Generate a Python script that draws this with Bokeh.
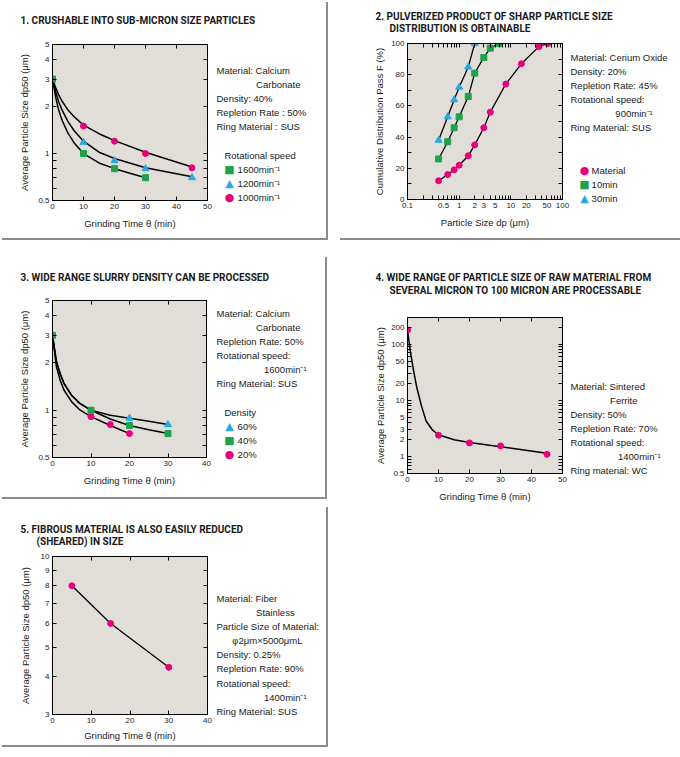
from bokeh.plotting import figure
from bokeh.models import (Range1d, FixedTicker, LinearAxis, LogAxis, Label,
                          CustomJSTickFormatter)
from bokeh.layouts import column, row
from bokeh.embed import file_html
from bokeh.resources import INLINE

# ---------------- data ----------------
# Panel 1: rotational speed comparison
p1_1600_t = [0, 10, 20, 30]
p1_1600 = [3.0, 1.0, 0.8, 0.70]
p1_1200_t = [10, 20, 30, 45]
p1_1200 = [1.18, 0.90, 0.80, 0.70]
p1_1000_t = [10, 20, 30, 45]
p1_1000 = [1.5, 1.2, 1.0, 0.81]
p1_curve_t = [0, 1, 2, 3, 5, 7, 10, 15, 20, 30, 45]
p1_curve_1000 = [3.0, 2.65, 2.38, 2.18, 1.9, 1.72, 1.52, 1.34, 1.21, 1.02, 0.82]
p1_curve_1200 = [3.0, 2.5, 2.15, 1.92, 1.6, 1.4, 1.2, 1.02, 0.93, 0.81, 0.71]
p1_curve_1600_t = [0, 1, 2, 3, 5, 7, 10, 15, 20, 30]
p1_curve_1600 = [3.0, 2.3, 1.9, 1.65, 1.35, 1.17, 1.0, 0.87, 0.80, 0.70]

# Panel 2: cumulative distribution
p2_mat_dp = [0.4, 0.6, 0.8, 1.0, 1.5, 2.0, 3.0, 4.0, 8.0, 16.0, 35.0, 52.0]
p2_mat_F = [12, 16, 19, 22, 28, 35, 46, 56, 74, 87, 98, 100]
p2_10_dp = [0.4, 0.6, 0.8, 1.0, 1.5, 2.0, 3.0, 4.0, 6.0]
p2_10_F = [26, 37, 46, 53, 66, 81, 91, 97, 100]
p2_30_dp = [0.4, 0.6, 0.8, 1.0, 1.5, 2.0]
p2_30_F = [38, 53, 64, 72, 85, 100]

# Panel 3: slurry density
p3_60_t = [20, 30]
p3_60 = [0.89, 0.81]
p3_40_t = [0, 10, 20, 30]
p3_40 = [3.0, 1.0, 0.80, 0.71]
p3_20_t = [10, 15, 20]
p3_20 = [0.91, 0.81, 0.71]
p3_curve_t = [0, 1, 2, 3, 5, 7, 10, 15, 20, 25, 30]
p3_curve_60 = [3.0, 2.05, 1.7, 1.48, 1.24, 1.11, 1.0, 0.93, 0.89, 0.85, 0.81]
p3_curve_40 = [3.0, 2.05, 1.7, 1.48, 1.24, 1.11, 1.0, 0.88, 0.80, 0.75, 0.71]
p3_curve_20_t = [0, 1, 2, 3, 5, 7, 10, 15, 20]
p3_curve_20 = [3.0, 1.9, 1.55, 1.34, 1.13, 1.01, 0.91, 0.80, 0.71]

# Panel 4: raw material size
p4_t = [0, 10, 20, 30, 45]
p4_dp = [180, 2.4, 1.75, 1.55, 1.1]
p4_curve_t = [0, 0.5, 1, 2, 3, 4.5, 6, 8, 10, 15, 20, 30, 45]
p4_curve = [180, 110, 70, 33, 17, 8.0, 4.3, 3.0, 2.45, 2.0, 1.78, 1.5, 1.15]

# Panel 5: fibrous material
p5_t = [5, 15, 30]
p5_dp = [8.0, 6.0, 4.3]

# ticks
lin50 = [0, 10, 20, 30, 40, 50]
lin40 = [0, 10, 20, 30, 40]
log_y13 = [0.5, 1, 2, 3, 4, 5]
log_y13_minor = [0.6, 0.7, 0.8, 0.9]
p2_x_major = [0.1, 0.5, 1, 2, 3, 5, 10, 20, 50, 100]
p2_x_minor = [0.2, 0.3, 0.4, 0.6, 0.7, 0.8, 0.9, 4, 6, 7, 8, 9, 30, 40, 60, 70, 80, 90]
p2_y_major = [0, 20, 40, 60, 80, 100]
p2_y_minor = [10, 30, 50, 70, 90]
p4_y_major = [0.5, 1, 2, 3, 5, 10, 20, 50, 100, 200]
p4_y_minor = [0.6, 0.7, 0.8, 0.9, 4, 6, 7, 8, 9, 30, 40, 60, 70, 80, 90]
p5_y_major = [3, 4, 5, 6, 7, 8, 9, 10]

# panel texts
SP = "\u00a0"
p1_title = "1.  CRUSHABLE INTO SUB-MICRON SIZE PARTICLES"
p1_info = ["Material: Calcium", SP * 15 + "Carbonate", "Density: 40%",
           "Repletion Rate : 50%", "Ring Material : SUS", SP,
           SP * 3 + "Rotational speed", SP * 8 + "1600min⁻¹",
           SP * 8 + "1200min⁻¹", SP * 8 + "1000min⁻¹"]
p2_title = ["2.  PULVERIZED PRODUCT OF SHARP PARTICLE SIZE", "DISTRIBUTION IS OBTAINABLE"]
p2_info = ["Material: Cerium Oxide", "Density: 20%", "Repletion Rate: 45%",
           "Rotational speed:", SP * 17 + "900min⁻¹", "Ring Material: SUS", SP, SP,
           SP * 8 + "Material", SP * 8 + "10min", SP * 8 + "30min"]
p3_title = "3.  WIDE RANGE SLURRY DENSITY CAN BE PROCESSED"
p3_info = ["Material: Calcium", SP * 15 + "Carbonate", "Repletion Rate: 50%",
           "Rotational speed:", SP * 18 + "1600min⁻¹", "Ring Material: SUS", SP,
           SP * 3 + "Density", SP * 8 + "60%", SP * 8 + "40%", SP * 8 + "20%"]
p4_title = ["4.  WIDE RANGE OF PARTICLE SIZE OF RAW MATERIAL FROM",
            "SEVERAL MICRON TO 100 MICRON ARE PROCESSABLE"]
p4_info = ["Material: Sintered", SP * 15 + "Ferrite", "Density: 50%",
           "Repletion Rate: 70%", "Rotational speed:", SP * 18 + "1400min⁻¹",
           "Ring material: WC"]
p5_title = ["5.  FIBROUS MATERIAL IS ALSO EASILY REDUCED", "(SHEARED)  IN SIZE"]
p5_info = ["Material: Fiber", SP * 15 + "Stainless", "Particle Size of Material:",
           SP * 6 + "φ2μm×5000μmL", "Density: 0.25%", "Repletion Rate: 90%",
           "Rotational speed:", SP * 18 + "1400min⁻¹", "Ring Material: SUS"]

# ---------------- style ----------------
FONT = "Liberation Sans"
TFONT = "Roboto"
BG = "#e1ddd8"
PINK = "#e6007e"
GREEN = "#1ea24b"
CYAN = "#27a9e1"
TXT = "#1a1a1a"
INFO_SIZE = 9.5
LINE_METRIC = 10.86 / 9.5   # measured line box / font size

fmt = CustomJSTickFormatter(code="return String(tick)")
blank = CustomJSTickFormatter(code="return ''")


def style_axis(ax, major, minor, show):
    ax.ticker = FixedTicker(ticks=major, minor_ticks=minor)
    ax.formatter = fmt if show else blank
    ax.major_tick_in = 4
    ax.major_tick_out = 0
    ax.minor_tick_in = 4
    ax.minor_tick_out = 0
    ax.axis_line_color = "black"
    ax.major_tick_line_color = "black"
    ax.minor_tick_line_color = "black"
    ax.major_label_standoff = 3 if show else 0
    ax.major_label_text_font = FONT
    ax.major_label_text_color = TXT
    ax.major_label_text_font_size = "8px"


class Panel:
    pass


def panel(origin, W, H, frame, xr, yr, xlog, ylog, xt, xmin, yt, ymin,
          xlabel, ylabel, xstand=6, ystand=6, margin=(0, 0, 0, 0), shadow=None):
    ox, oy = origin
    fx0, fx1, fy0, fy1 = frame
    p = figure(width=W, height=H, x_range=Range1d(*xr), y_range=Range1d(*yr),
               x_axis_type="log" if xlog else "linear",
               y_axis_type="log" if ylog else "linear",
               output_backend="svg", toolbar_location=None,
               min_border_left=fx0 - ox, min_border_right=W - (fx1 - ox),
               min_border_top=fy0 - oy, min_border_bottom=H - (fy1 - oy),
               margin=margin)
    if shadow:
        p.styles = {"box-shadow": shadow}
    p.background_fill_color = BG
    p.border_fill_color = "white"
    p.outline_line_color = "black"
    p.outline_line_width = 1
    p.xgrid.visible = False
    p.ygrid.visible = False
    top = LogAxis() if xlog else LinearAxis()
    right = LogAxis() if ylog else LinearAxis()
    p.add_layout(top, "above")
    p.add_layout(right, "right")
    bx = p.below[0]
    ly = p.left[0]
    style_axis(bx, xt, xmin, True)
    style_axis(ly, yt, ymin, True)
    style_axis(top, xt, xmin, False)
    style_axis(right, yt, ymin, False)
    for ax, lab, st in ((bx, xlabel, xstand), (ly, ylabel, ystand)):
        ax.axis_label = lab
        ax.axis_label_text_font = FONT
        ax.axis_label_text_font_size = "9.5px"
        ax.axis_label_text_font_style = "normal"
        ax.axis_label_text_color = TXT
        ax.axis_label_standoff = st
    info = Panel()
    info.p = p
    info.ox = ox
    info.oy = oy
    return info


def side_label(P, side, X, Y, text, size, font=FONT, bold=False, color=TXT,
               align="left", baseline="middle", line_height=1.2):
    # absolute canvas position; placed in a side panel so it is drawn outside the frame
    P.p.add_layout(Label(x=X - P.ox, y=Y - P.oy, x_units="canvas", y_units="canvas",
                         text=text, text_font=font, text_font_size=f"{size}px",
                         text_font_style="bold" if bold else "normal",
                         text_color=color, text_align=align, text_baseline=baseline,
                         text_line_height=line_height), side)


def title(P, X, Y, text):
    side_label(P, "above", X, Y, text, 10, font=TFONT, bold=True, line_height=1.1)


def info_block(P, X, Y, lines, pitch=14.0):
    side_label(P, "right", X, Y - pitch / 2, "\n".join(lines), INFO_SIZE,
               baseline="top", line_height=pitch / (INFO_SIZE * LINE_METRIC))


def mark(P, side, X, Y, shape, color):
    side_label(P, side, X, Y, shape, 11, font="DejaVu Sans", color=color, align="center")


XLAB = "Grinding Time θ (min)"
YLAB = "Average Particle Size dp50 (μm)"
SHADOW = "2px 2px 0 0 #8c8c8c"

# ---------------- Panel 1 ----------------
P1 = panel((0, 0), 326, 238, (52, 207, 44, 200), (0, 50), (0.5, 5), False, True,
           lin50, [], log_y13, log_y13_minor, XLAB, YLAB, ystand=5,
           margin=(0, 14, 17, 0), shadow=SHADOW)
p1 = P1.p
p1.line(p1_curve_t, p1_curve_1000, line_color="black", line_width=1.5)
p1.line(p1_curve_t, p1_curve_1200, line_color="black", line_width=1.5)
p1.line(p1_curve_1600_t, p1_curve_1600, line_color="black", line_width=1.5)
p1.scatter(p1_1000_t, p1_1000, marker="circle", size=6, color=PINK)
p1.scatter(p1_1200_t, p1_1200, marker="triangle", size=7, color=CYAN)
p1.scatter(p1_1600_t, p1_1600, marker="square", size=6, color=GREEN)
title(P1, 20, 20, p1_title)
info_block(P1, 216, 71, p1_info)
mark(P1, "right", 229, 155 + 14, "■", GREEN)
mark(P1, "right", 229, 155 + 28, "▲", CYAN)
mark(P1, "right", 229, 155 + 42, "●", PINK)

# ---------------- Panel 2 ----------------
P2 = panel((340, 0), 340, 238, (407, 562, 43, 199), (0.1, 100), (0, 100), True, False,
           p2_x_major, p2_x_minor, p2_y_major, p2_y_minor,
           "Particle Size dp (μm)", "Cumulative Distribution Pass F (%)", ystand=3,
           margin=(0, 0, 17, 0), shadow="0 2px 0 0 #8c8c8c")
p2 = P2.p
p2.line(p2_mat_dp, p2_mat_F, line_color="black", line_width=1.3)
p2.line(p2_10_dp, p2_10_F, line_color="black", line_width=1.3)
p2.line(p2_30_dp, p2_30_F, line_color="black", line_width=1.3)
p2.scatter(p2_mat_dp, p2_mat_F, marker="circle", size=6, color=PINK)
p2.scatter(p2_10_dp, p2_10_F, marker="square", size=6, color=GREEN)
p2.scatter(p2_30_dp, p2_30_F, marker="triangle", size=7, color=CYAN)
title(P2, 375, 16, p2_title[0])
title(P2, 389, 28, p2_title[1])
info_block(P2, 570, 58, p2_info)
mark(P2, "left", 584, 170, "●", PINK)
mark(P2, "left", 584, 184, "■", GREEN)
mark(P2, "left", 584, 198, "▲", CYAN)

# ---------------- Panel 3 ----------------
P3 = panel((0, 255), 325, 242, (52, 209, 300, 457), (0, 40), (0.5, 5), False, True,
           lin40, [], log_y13, log_y13_minor, XLAB, YLAB, ystand=5,
           margin=(0, 15, 8, 0), shadow=SHADOW)
p3 = P3.p
p3.line(p3_curve_t, p3_curve_60, line_color="black", line_width=1.5)
p3.line(p3_curve_t, p3_curve_40, line_color="black", line_width=1.5)
p3.line(p3_curve_20_t, p3_curve_20, line_color="black", line_width=1.5)
p3.scatter(p3_60_t, p3_60, marker="triangle", size=7, color=CYAN)
p3.scatter(p3_20_t, p3_20, marker="circle", size=6, color=PINK)
p3.scatter(p3_40_t, p3_40, marker="square", size=6, color=GREEN)
title(P3, 20, 277, p3_title)
info_block(P3, 216, 314, p3_info)
mark(P3, "right", 229, 426, "▲", CYAN)
mark(P3, "right", 229, 440, "■", GREEN)
mark(P3, "right", 229, 454, "●", PINK)

# ---------------- Panel 4 ----------------
P4 = panel((340, 255), 340, 250, (405, 562, 317, 473), (0, 50), (0.5, 300), False, True,
           lin50, [], p4_y_major, p4_y_minor, XLAB, YLAB, ystand=2)
p4 = P4.p
p4.line(p4_curve_t, p4_curve, line_color="black", line_width=1.5)
p4.scatter(p4_t, p4_dp, marker="circle", size=6, color=PINK)
title(P4, 375, 277, p4_title[0])
title(P4, 389, 290, p4_title[1])
info_block(P4, 570, 387, p4_info, pitch=13.85)

# ---------------- Panel 5 ----------------
P5 = panel((0, 505), 326, 240, (52, 209, 556, 714), (0, 40), (3, 10), False, True,
           lin40, [], p5_y_major, [], XLAB, YLAB, xstand=4, ystand=7,
           margin=(0, 14, 12, 0), shadow=SHADOW)
p5 = P5.p
p5.line(p5_t, p5_dp, line_color="black", line_width=1.3)
p5.scatter(p5_t, p5_dp, marker="circle", size=6, color=PINK)
title(P5, 20, 529, p5_title[0])
title(P5, 36, 541, p5_title[1])
info_block(P5, 216, 599, p5_info)

layout = row(column(p1, p3, p5), column(p2, p4))
open("out.html", "w").write(file_html(layout, INLINE))
